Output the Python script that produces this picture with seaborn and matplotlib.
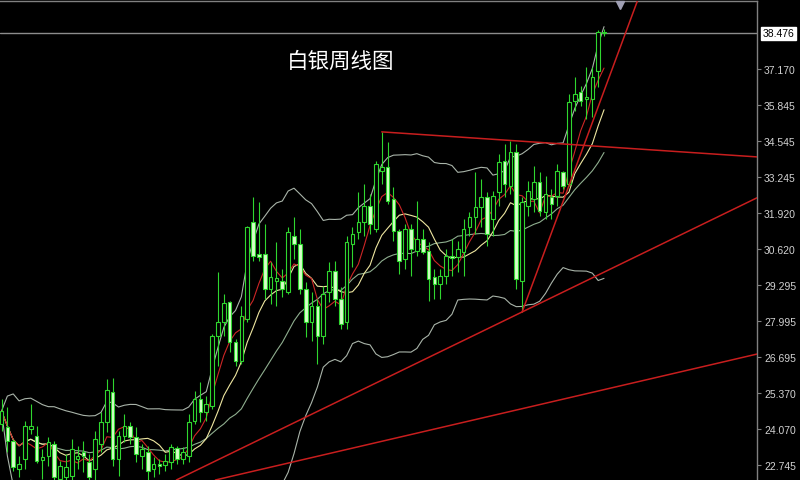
import matplotlib
matplotlib.use("Agg")
import matplotlib.pyplot as plt
import matplotlib.transforms as mtransforms
import seaborn as sns
import pandas as pd
import numpy as np

# weekly silver candles, oldest first
opens = [24.24, 24.13, 23.62, 22.60, 22.96, 24.06, 23.80, 22.93, 23.07, 23.51,
         22.23, 22.31, 22.34, 22.96, 23.22, 22.85, 22.60, 23.51, 24.31, 25.40,
         22.96, 23.80, 24.16, 23.76, 23.07, 23.22, 22.60, 22.78, 22.74, 22.85,
         23.36, 22.96, 23.07, 24.35, 25.15, 24.67, 24.89, 27.44, 27.95, 28.68,
         27.22, 26.53, 28.06, 31.60, 30.43, 30.43, 29.16, 29.45, 29.45, 29.05,
         31.09, 30.80, 29.16, 27.95, 28.54, 27.44, 29.05, 29.81, 28.79, 27.95,
         30.80, 31.23, 31.60, 32.18, 31.34, 33.45, 33.60, 32.43, 31.27, 30.25,
         31.34, 30.54, 30.98, 30.54, 29.59, 29.34, 29.63, 30.36, 30.32, 30.50,
         31.41, 31.78, 32.14, 32.51, 31.71, 32.69, 33.82, 32.91, 34.15, 29.45,
         32.18, 32.43, 33.05, 31.96, 32.51, 32.54, 33.42, 32.98, 36.00, 36.33,
         36.08, 36.08, 37.10, 38.52]
highs = [25.15, 24.86, 23.69, 23.07, 24.35, 24.97, 24.16, 23.33, 23.76, 23.62,
         22.89, 23.14, 23.69, 23.44, 23.62, 23.14, 23.98, 24.67, 25.88, 25.91,
         23.98, 24.60, 24.31, 24.13, 23.51, 23.44, 23.03, 22.96, 23.14, 23.51,
         23.44, 23.40, 24.60, 25.44, 25.77, 25.26, 27.52, 29.78, 28.97, 28.72,
         27.33, 28.54, 31.45, 32.51, 32.33, 31.52, 30.14, 30.87, 29.88, 31.41,
         31.78, 31.34, 29.41, 29.05, 28.79, 29.26, 30.14, 30.18, 29.23, 31.09,
         31.41, 32.69, 32.98, 32.62, 33.82, 34.88, 34.51, 32.87, 31.34, 31.52,
         31.52, 32.36, 31.34, 30.87, 29.88, 29.88, 30.61, 30.98, 30.90, 31.71,
         31.96, 33.42, 33.16, 32.69, 32.73, 34.07, 34.44, 34.55, 34.44, 32.51,
         33.09, 33.64, 33.42, 33.27, 32.80, 33.71, 33.45, 36.26, 36.88, 36.55,
         37.24, 37.24, 38.59, 38.63]
lows = [23.98, 23.22, 22.53, 22.31, 22.60, 23.87, 22.82, 22.23, 22.71, 22.05,
        21.94, 22.05, 22.05, 22.60, 22.49, 22.09, 22.20, 23.22, 23.95, 22.71,
        22.34, 23.58, 23.51, 22.85, 22.60, 22.20, 22.31, 22.42, 22.53, 22.60,
        22.78, 22.78, 22.85, 24.24, 24.31, 24.35, 24.78, 26.35, 27.44, 26.86,
        26.35, 26.42, 27.95, 30.18, 30.18, 28.79, 28.61, 28.54, 28.86, 28.97,
        30.25, 28.97, 27.41, 27.26, 26.42, 27.15, 28.68, 28.54, 27.70, 27.70,
        29.96, 30.98, 31.09, 31.16, 31.23, 32.98, 32.25, 30.90, 29.70, 29.88,
        29.63, 30.36, 30.43, 28.72, 28.79, 28.79, 29.34, 29.63, 29.78, 29.63,
        31.09, 31.16, 31.41, 30.72, 31.09, 32.18, 32.51, 32.62, 29.16, 28.32,
        31.81, 31.96, 31.81, 31.71, 31.71, 32.18, 32.80, 32.91, 35.64, 35.82,
        35.35, 35.42, 36.51, 38.37]
closes = [24.71, 23.62, 22.67, 22.78, 24.16, 24.16, 22.89, 23.03, 23.58, 22.31,
          22.71, 22.67, 23.33, 23.07, 23.07, 22.31, 23.69, 24.31, 25.48, 22.96,
          23.80, 24.16, 23.76, 23.14, 23.33, 22.53, 22.78, 22.71, 22.89, 23.40,
          22.96, 23.22, 24.31, 25.15, 24.67, 24.97, 27.44, 27.95, 28.65, 27.22,
          26.53, 28.17, 31.41, 30.36, 30.32, 29.16, 29.59, 29.56, 29.16, 31.23,
          30.80, 29.16, 27.95, 28.54, 27.44, 28.97, 29.81, 28.79, 27.88, 30.87,
          31.16, 31.60, 32.18, 31.52, 33.71, 33.60, 32.36, 31.27, 30.18, 31.34,
          30.61, 30.98, 30.50, 29.52, 29.34, 29.63, 30.36, 30.29, 30.61, 31.34,
          31.78, 32.14, 32.51, 31.16, 32.54, 33.78, 32.98, 34.15, 29.52, 32.33,
          32.73, 33.05, 32.00, 32.62, 32.25, 33.45, 32.91, 35.97, 36.26, 36.00,
          36.15, 36.88, 38.52, 38.476]

price_ticks = [37.170, 35.845, 34.545, 33.245, 31.920, 30.620,
               29.295, 27.995, 26.695, 25.370, 24.070, 22.745]
last_price = 38.476
title = "白银周线图"

# hand-drawn red trendlines: (bar index, price) anchor pairs
resistance = [(65, 34.88), (103, 34.34)]
steep_support = [(89, 28.32), (103, 36.37)]
mid_support = [(89, 28.32), (103, 29.77)]
low_support = [(36, 22.17), (103, 25.49)]

GREEN = '#2fd62f'
PALE = '#d6ffc8'
RED = '#c81e1e'

df = pd.DataFrame({'open': opens, 'high': highs, 'low': lows, 'close': closes})
df['i'] = np.arange(len(df))
df['ma5'] = df['close'].rolling(5, min_periods=1).mean()
df['ma10'] = df['close'].rolling(10, min_periods=1).mean()
df['ma20'] = df['close'].rolling(20, min_periods=1).mean()
sd = df['close'].rolling(20, min_periods=1).std(ddof=0)
df['bb_up'] = df['ma20'] + 2 * sd
df['bb_dn'] = df['ma20'] - 2 * sd

sns.set_theme(style="dark", rc={
    "axes.facecolor": "black", "figure.facecolor": "black",
    "axes.edgecolor": "#808080", "axes.grid": False,
})
plt.rcParams['font.family'] = ['Noto Sans CJK SC', 'DejaVu Sans']

fig = plt.figure(figsize=(8, 4.81), dpi=100)
ax = fig.add_axes([0, 0, 757 / 800, 479 / 481])

xmin, xmax = -0.26, 129.15
ax.set_xlim(xmin, xmax)
ax.set_ylim(22.198, 39.648)

# indicators
sns.lineplot(data=df, x='i', y='bb_up', ax=ax, color='#a9b4a9', linewidth=0.8)
sns.lineplot(data=df, x='i', y='bb_dn', ax=ax, color='#a9b4a9', linewidth=0.8)
sns.lineplot(data=df, x='i', y='ma20', ax=ax, color='#8fae8f', linewidth=0.8)
sns.lineplot(data=df, x='i', y='ma10', ax=ax, color='#eee6a0', linewidth=0.8)
sns.lineplot(data=df, x='i', y='ma5', ax=ax, color='#cc2626', linewidth=0.8)

# candles
up = df['close'] >= df['open']
ax.vlines(df['i'], df['low'], df['high'], color=GREEN, linewidth=0.8, zorder=3)
body_lo = np.minimum(df['open'], df['close'])
body_h = (df['close'] - df['open']).abs()
ax.bar(df['i'][up], body_h[up], bottom=body_lo[up], width=0.62,
       facecolor='black', edgecolor=GREEN, linewidth=0.8, zorder=4)
ax.bar(df['i'][~up], body_h[~up], bottom=body_lo[~up], width=0.62,
       facecolor=PALE, edgecolor=GREEN, linewidth=0.8, zorder=4)

# trendlines
def ray(pts):
    (x1, y1), (x2, y2) = pts
    k = (y2 - y1) / (x2 - x1)
    xs = np.array([x1, xmax + 3])
    ax.plot(xs, y1 + k * (xs - x1), color=RED, linewidth=1.1, zorder=5)

ray(resistance)
ray(steep_support)
ax.axline(mid_support[0], mid_support[1], color=RED, linewidth=1.1, zorder=5)
ax.axline(low_support[0], low_support[1], color=RED, linewidth=1.1, zorder=5)

# current price line and label
ax.axhline(last_price, color='#8c8c8c', linewidth=1, zorder=2)
trans = mtransforms.blended_transform_factory(ax.transAxes, ax.transData)
ax.text(1.007, last_price, f"{last_price:.3f}", transform=trans, ha='left', va='center',
        fontsize=7.5, color='black', family='Liberation Sans',
        bbox=dict(boxstyle='square,pad=0.15', facecolor='white', edgecolor='white'))

# chart shift marker at the top
ax.plot([105.7], [0.992], marker='v', markersize=6, color='#a0a0b4',
        transform=mtransforms.blended_transform_factory(ax.transData, ax.transAxes),
        clip_on=False, zorder=6)

ax.yaxis.tick_right()
ax.set_yticks(price_ticks)
ax.set_yticklabels([f"{v:.3f}" for v in price_ticks], family='Liberation Sans')
ax.tick_params(axis='y', colors='#808080', labelcolor='#d2d2d2', labelsize=7.5,
               length=3, width=0.8, pad=2, direction='out')
ax.set_xticks([])
ax.set_xlabel('')
ax.set_ylabel('')
for s in ['left', 'bottom']:
    ax.spines[s].set_visible(False)
for s in ['top', 'right']:
    ax.spines[s].set_color('#808080')
    ax.spines[s].set_linewidth(1)

fig.text(341 / 800, 1 - 62 / 481, title, color='white', fontsize=15.5,
         ha='center', va='center', family=['Noto Sans CJK SC', 'DejaVu Sans'])

fig.savefig('out.png', dpi=100, facecolor='black')
plt.close(fig)
